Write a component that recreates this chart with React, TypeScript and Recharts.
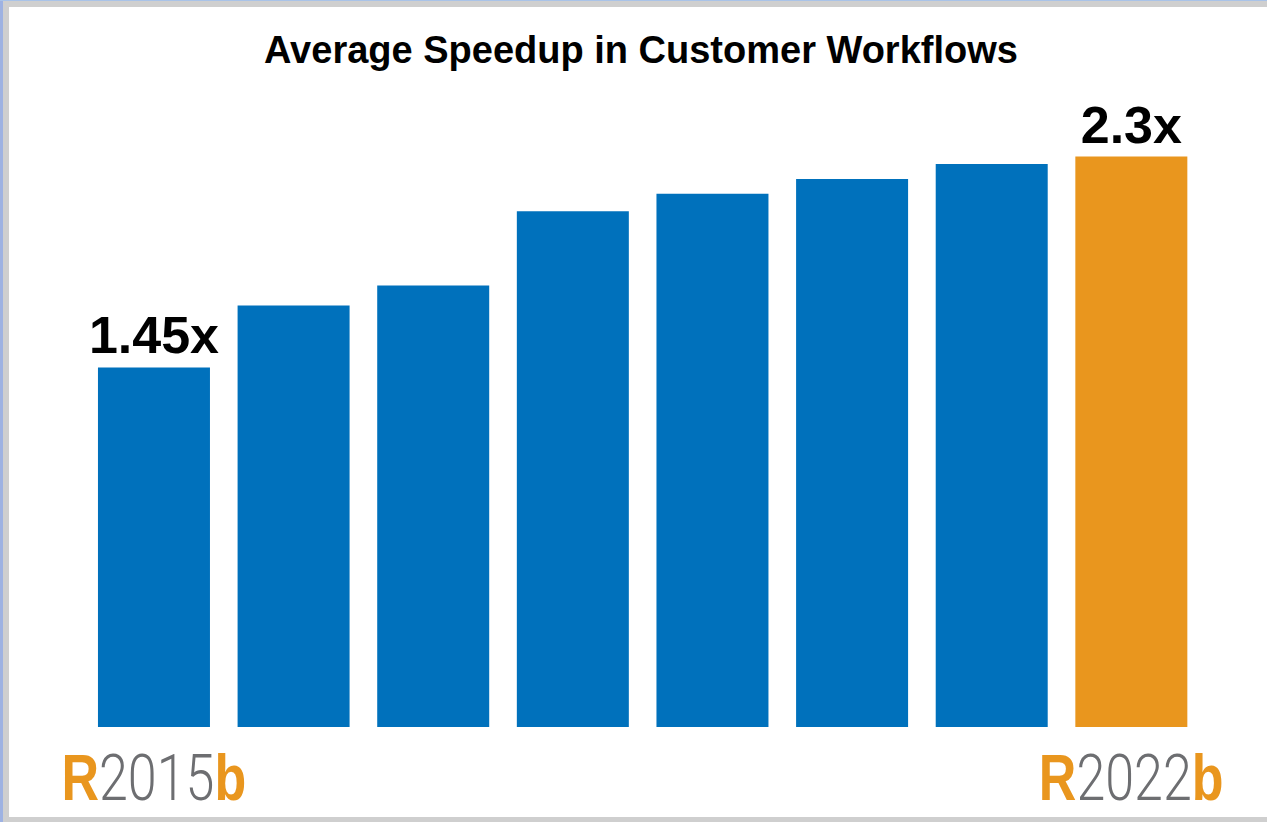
import React from "react";
import { BarChart, Bar, XAxis, YAxis, Cell, LabelList } from "recharts";

const categories = ["R2015b", "R2016b", "R2017b", "R2018b", "R2019b", "R2020b", "R2021b", "R2022b"];
const speedups = [1.45, 1.7, 1.78, 2.08, 2.15, 2.21, 2.27, 2.3];
const barLabels = ["1.45x", "", "", "", "", "", "", "2.3x"];
const tickLabels = ["R2015b", "", "", "", "", "", "", "R2022b"];
const title = "Average Speedup in Customer Workflows";

const BLUE = "#0071BC";
const ORANGE = "#E9961E";
const GRAY_TEXT = "#6D6E71";

const data = categories.map((c, i) => ({
  name: c,
  value: speedups[i],
  label: barLabels[i],
  tick: tickLabels[i],
}));

const YearTick = (props: any) => {
  const { x, y, index } = props;
  const lbl = tickLabels[index];
  if (!lbl) return null;
  const first = lbl.slice(0, 1);
  const mid = lbl.slice(1, lbl.length - 1);
  const last = lbl.slice(lbl.length - 1);
  return (
    <g transform={`translate(${x},${y + 73}) scale(0.8,1)`}>
      <text x={0} y={0} textAnchor="middle" fontSize={65}>
        <tspan fill={ORANGE} fontWeight={700} fontFamily="'Liberation Sans', Arial, sans-serif">{first}</tspan>
        <tspan fill={GRAY_TEXT} fontWeight={300} fontFamily="Roboto, 'Open Sans', sans-serif">{mid}</tspan>
        <tspan fill={ORANGE} fontWeight={700} fontFamily="'Liberation Sans', Arial, sans-serif">{last}</tspan>
      </text>
    </g>
  );
};

export default function App() {
  return (
    <div style={{ position: "absolute", left: 0, top: 0, width: 1267, height: 822, background: "#ffffff", overflow: "hidden" }}>
      {/* frame */}
      <div style={{ position: "absolute", left: 0, top: 0, width: 3, height: 822, background: "#9EB2E2" }} />
      <div style={{ position: "absolute", left: 0, top: 0, width: 1267, height: 1, background: "#A9C3E8" }} />
      <div style={{ position: "absolute", left: 3, top: 1, width: 6, height: 821, background: "#CFCFCF" }} />
      <div style={{ position: "absolute", left: 3, top: 1, width: 1264, height: 6, background: "#CFCFCF" }} />
      <div style={{ position: "absolute", left: 3, top: 817, width: 1264, height: 5, background: "#CFCFCF" }} />
      <div
        style={{
          position: "absolute",
          left: 641,
          top: 31,
          transform: "translateX(-50%)",
          whiteSpace: "nowrap",
          fontFamily: "'Liberation Sans', Arial, sans-serif",
          fontWeight: 700,
          fontSize: 38,
          lineHeight: "38px",
          color: "#000",
        }}
      >
        {title}
      </div>
      <div style={{ position: "absolute", left: 0, top: 0 }}>
        <BarChart
          width={1267}
          height={822}
          data={data}
          margin={{ top: 107, right: 66, bottom: 0, left: 84 }}
          barCategoryGap="10%"
        >
          <XAxis
            dataKey="name"
            axisLine={false}
            tickLine={false}
            tickSize={0}
            tickMargin={0}
            height={95}
            interval={0}
            tick={<YearTick />}
          />
          <YAxis hide domain={[0, 2.5]} />
          <Bar dataKey="value" isAnimationActive={false}>
            {data.map((d, i) => (
              <Cell key={d.name} fill={i === data.length - 1 ? ORANGE : BLUE} />
            ))}
            <LabelList
              dataKey="label"
              position="top"
              offset={14}
              fill="#000"
              fontSize={52}
              fontWeight={700}
              fontFamily="'Liberation Sans', Arial, sans-serif"
            />
          </Bar>
        </BarChart>
      </div>
    </div>
  );
}
